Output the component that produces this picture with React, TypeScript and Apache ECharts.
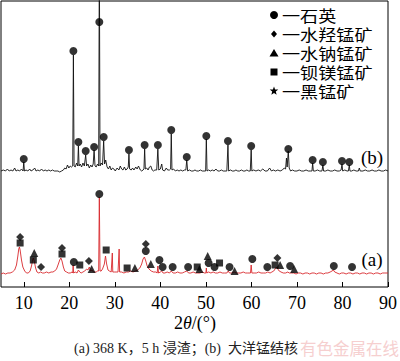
import React, { useEffect, useRef } from "react";
import * as echarts from "echarts";

// 2θ (°) vs. intensity (px above own baseline)
const bProfile: number[][] = [
  [5.0,1],[5.5,2],[6.0,1],[6.4,3],[6.8,1],[7.2,2],[7.6,1],[8.0,4],[8.3,1],[8.7,2],[9.1,1],[9.5,3],[9.85,1],[10.0,10],[10.15,1],
  [10.5,2],[10.9,1],[11.3,3],[11.6,1],[12.0,2],[12.4,4],[12.7,1],[13.1,2],[13.5,1],[13.9,3],[14.3,1],[14.7,2],[15.1,1],[15.5,2],
  [15.9,1],[16.3,2],[16.7,1],[17.1,1],[17.5,1],[17.9,0],[18.3,1],[18.7,2],[19.0,4],[19.3,3],[19.6,7],[19.9,4],[20.2,6],[20.5,5],
  [20.75,6],[20.9,117],[21.05,6],[21.3,5],[21.6,9],[21.85,6],[22.0,26],[22.15,6],[22.4,8],[22.7,5],[23.0,9],[23.3,6],[23.6,17],
  [23.8,6],[24.1,8],[24.4,4],[24.7,7],[25.0,5],[25.25,8],[25.45,22],[25.65,6],[25.9,5],[26.2,8],[26.45,6],[26.6,220],[26.75,6],
  [27.0,9],[27.3,7],[27.55,31],[27.75,8],[28.0,12],[28.3,5],[28.6,3],[28.9,6],[29.2,2],[29.5,4],[29.8,3],[30.1,1],[30.5,4],
  [30.9,2],[31.2,6],[31.5,3],[31.8,2],[32.1,5],[32.4,2],[32.7,3],[32.95,5],[33.1,18],[33.25,3],[33.6,2],[33.9,4],[34.2,2],
  [34.6,5],[34.9,3],[35.2,6],[35.6,2],[35.9,1],[36.2,2],[36.4,3],[36.55,23],[36.7,3],[37.0,4],[37.3,2],[37.6,5],[37.9,6],
  [38.2,2],[38.5,1],[38.8,2],[39.2,2],[39.45,23],[39.65,2],[40.0,3],[40.3,8],[40.5,2],[40.9,1],[41.3,4],[41.6,2],[42.0,2],
  [42.25,3],[42.4,38],[42.55,2],[42.9,3],[43.3,1],[43.7,2],[44.1,1],[44.5,2],[44.9,1],[45.3,2],[45.6,2],[45.8,12],[46.0,1],
  [46.4,2],[46.8,1],[47.2,1],[47.6,2],[48.0,1],[48.4,1],[48.8,2],[49.2,1],[49.6,1],[49.95,1],[50.1,33],[50.25,1],[50.6,2],
  [51.0,1],[51.4,2],[51.8,1],[52.2,3],[52.6,1],[53.0,1],[53.4,2],[53.8,1],[54.2,1],[54.6,1],[54.85,27],[55.0,1],[55.4,2],
  [55.8,1],[56.2,1],[56.6,2],[57.0,1],[57.4,1],[57.8,2],[58.2,1],[58.6,1],[59.0,2],[59.4,1],[59.75,1],[59.95,22],[60.1,1],
  [60.5,2],[61.0,1],[61.5,2],[62.0,1],[62.5,3],[63.0,1],[63.5,1],[64.0,4],[64.4,1],[64.8,2],[65.3,1],[65.8,2],[66.3,1],
  [66.8,2],[67.2,4],[67.5,3],[67.7,14],[67.85,5],[68.1,21],[68.3,4],[68.6,1],[69.0,2],[69.5,1],[70.0,1],[70.5,2],[71.0,1],
  [71.5,1],[72.0,2],[72.5,1],[73.0,1],[73.3,1],[73.45,9],[73.6,1],[74.0,1],[74.5,2],[75.0,1],[75.5,1],[75.7,7],[75.85,1],
  [76.3,1],[76.8,2],[77.3,1],[77.8,1],[78.3,2],[78.8,1],[79.3,1],[79.7,2],[79.9,8],[80.05,1],[80.5,2],[81.0,1],[81.3,1],
  [81.5,7],[81.65,1],[82.0,1],[82.5,2],[83.0,1],[83.5,1],[83.7,4],[83.9,1],[84.5,1],[85.0,2],[85.5,1],[86.0,1],[86.5,2],
  [87.0,1],[87.5,1],[88.0,2],[88.5,1],[89.0,1],[89.5,2],[90.0,1],
];

const aProfile: number[][] = [
  [5.0,0],[5.5,1],[6.0,0],[6.5,1],[7.0,1],[7.5,2],[8.0,4],[8.4,9],[8.7,18],[8.9,25],[9.05,27],[9.2,24],[9.5,14],[9.8,7],
  [10.2,3],[10.6,1],[11.0,1],[11.4,3],[11.7,8],[11.95,14],[12.1,16],[12.3,13],[12.6,6],[12.9,2],[13.3,1],[13.7,2],[14.1,1],
  [14.5,1],[15.0,2],[15.5,1],[16.0,2],[16.4,2],[16.8,3],[17.2,5],[17.6,10],[17.9,14],[18.15,16],[18.4,13],[18.7,7],[19.0,3],
  [19.4,2],[19.8,1],[20.2,1],[20.6,2],[20.75,1],[20.85,9],[20.95,1],[21.3,2],[21.7,1],[22.0,4],[22.3,2],[22.6,1],[23.0,2],
  [23.4,3],[23.8,5],[24.1,4],[24.4,7],[24.7,3],[25.0,4],[25.3,2],[25.6,2],[25.9,2],[26.2,3],[26.45,3],[26.6,77],[26.75,3],
  [27.0,3],[27.3,5],[27.7,10],[27.95,18],[28.2,10],[28.5,4],[28.8,3],[29.2,2],[29.35,2],[29.45,21],[29.55,2],[29.9,2],
  [30.3,2],[30.7,2],[30.85,2],[30.95,25],[31.05,2],[31.5,2],[32.0,1],[32.5,2],[33.0,2],[33.5,3],[34.0,2],[34.5,3],[35.0,4],
  [35.5,6],[35.9,10],[36.2,15],[36.5,17],[36.8,13],[37.1,8],[37.5,5],[38.0,3],[38.5,2],[39.0,2],[39.3,1],[39.45,8],[39.6,1],
  [40.0,2],[40.3,3],[40.6,1],[41.0,1],[41.5,2],[42.0,1],[42.4,3],[42.8,1],[43.3,1],[43.8,2],[44.3,1],[44.8,1],[45.3,2],
  [45.8,3],[46.2,1],[46.7,1],[47.2,2],[47.7,1],[48.2,1],[48.7,1],[49.2,2],[49.7,1],[50.0,1],[50.1,6],[50.2,1],[50.6,2],
  [51.1,1],[51.6,2],[52.1,1],[52.6,1],[53.1,2],[53.6,1],[54.1,1],[54.6,1],[54.9,3],[55.2,1],[55.7,1],[56.2,2],[56.7,1],
  [57.2,1],[57.7,1],[58.2,2],[58.7,1],[59.2,1],[59.8,1],[59.95,9],[60.1,1],[60.6,1],[61.1,1],[61.6,2],[62.1,1],[62.6,1],
  [63.1,1],[63.6,2],[64.1,1],[64.5,2],[64.9,3],[65.2,5],[65.5,7],[65.8,5],[66.1,3],[66.5,2],[67.0,1],[67.5,1],[68.0,2],
  [68.3,1],[68.8,1],[69.3,1],[69.8,0],[70.3,1],[70.8,1],[71.3,0],[71.8,1],[72.3,1],[72.8,0],[73.3,1],[73.8,1],[74.3,0],
  [74.8,1],[75.3,1],[75.8,0],[76.3,1],[76.8,1],[77.3,2],[77.7,3],[78.0,4],[78.3,2],[78.8,1],[79.3,0],[79.8,1],[80.3,1],
  [80.8,0],[81.3,1],[81.8,1],[82.3,0],[82.8,1],[83.3,1],[83.8,0],[84.3,1],[84.8,1],[85.3,0],[85.8,1],[86.3,1],[86.8,0],
  [87.3,1],[87.8,1],[88.3,0],[88.8,1],[89.3,1],[90.0,1],
];

// phase markers [2θ, height above own baseline]
const bQuartzMarks: number[][] = [
  [10.0,13],[20.9,121],[22.0,30],[23.6,21],[25.45,25],[26.6,150],[27.55,35],[33.1,22],[36.55,27],[39.45,27],
  [42.4,42],[45.8,15],[50.1,36],[54.85,31],[59.95,26],[68.1,23],[73.45,12],[75.7,10],[79.9,11],[81.5,10],
];
const aQuartzMarks: number[][] = [
  [21.0,12],[26.6,80],[36.8,23],[39.8,14],[40.5,7],[42.7,7],[46.1,7],[50.6,11],[51.9,7],[55.2,7],[60.2,15],
  [63.5,7],[68.5,8],[78.1,8],[82.1,7],
];
const aDiamondMarks: number[][] = [[9.2,37],[13.8,7],[18.4,26],[24.3,13],[36.8,30],[65.7,16]];
const aSquareMarks: number[][] = [[9.2,31],[12.1,14],[18.4,20],[22.3,9],[28.1,24],[32.7,6],[48.1,7],[53.0,11],[65.2,9]];
const aTriangleMarks: number[][] = [[12.3,21],[24.9,5],[34.4,6],[37.9,10],[48.6,5],[50.4,18],[56.3,3],[66.3,9],[69.4,5]];

const xTicks = [10, 20, 30, 40, 50, 60, 70, 80, 90];
const legendNames = ["一石英", "一水羟锰矿", "一水钠锰矿", "一钡镁锰矿", "一黑锰矿"];

const B_OFFSET = 115;
const A_OFFSET = 13;
const RED = "#d8282c";
const SERIF = "'Liberation Serif', 'Times New Roman', serif";
const CJK = "'Liberation Serif', 'Noto Sans CJK SC', serif";

export default function App() {
  const ref = useRef<HTMLDivElement>(null);
  useEffect(() => {
    if (!ref.current) return;
    const chart = echarts.init(ref.current, undefined, { renderer: "svg" });
    const shift = (arr: number[][], off: number) => arr.map(([x, y]) => [x, y + off]);
    const marker = (name: string, data: number[][], symbol: string, size: number) => ({
      type: "scatter", name, data, symbol, symbolSize: size,
      itemStyle: { color: "#000" }, z: 5, silent: true,
    });
    const lx = 274, tx = 282, rows = [15, 34, 53, 72, 91];
    const starPts: number[][] = [];
    for (let i = 0; i < 10; i++) {
      const r = i % 2 === 0 ? 4.5 : 1.9;
      const ang = -Math.PI / 2 + (i * Math.PI) / 5;
      starPts.push([lx + r * Math.cos(ang), rows[4] + r * Math.sin(ang)]);
    }
    chart.setOption({
      animation: false,
      grid: { left: 1, right: 10, top: 1, bottom: 74, show: true, borderColor: "#000", borderWidth: 1 },
      xAxis: {
        type: "value", min: 5, max: 90,
        axisLine: { show: false },
        splitLine: { show: false },
        axisTick: { inside: true, length: 5, customValues: xTicks, lineStyle: { color: "#000" } },
        axisLabel: { customValues: xTicks, fontSize: 18, fontFamily: SERIF, color: "#000", margin: 7 },
      },
      yAxis: {
        type: "value", min: 0, max: 286,
        axisLine: { show: false }, axisTick: { show: false }, axisLabel: { show: false }, splitLine: { show: false },
      },
      series: [
        { type: "line", data: shift(bProfile, B_OFFSET), symbol: "none", lineStyle: { color: "#111", width: 0.9 }, clip: true, silent: true },
        { type: "line", data: shift(aProfile, A_OFFSET), symbol: "none", lineStyle: { color: RED, width: 0.9 }, clip: true, silent: true },
        marker("石英b", shift(bQuartzMarks, B_OFFSET), "circle", 8),
        marker("石英a", shift(aQuartzMarks, A_OFFSET), "circle", 8),
        marker("水羟锰矿", shift(aDiamondMarks, A_OFFSET), "diamond", 8),
        marker("钡镁锰矿", shift(aSquareMarks, A_OFFSET), "rect", 7),
        marker("水钠锰矿", shift(aTriangleMarks, A_OFFSET), "triangle", 8),
      ],
      graphic: [
        { type: "circle", shape: { cx: lx, cy: rows[0], r: 4 }, style: { fill: "#000" } },
        { type: "polygon", shape: { points: [[lx, rows[1] - 3.5], [lx + 3, rows[1]], [lx, rows[1] + 3.5], [lx - 3, rows[1]]] }, style: { fill: "#000" } },
        { type: "polygon", shape: { points: [[lx, rows[2] - 4], [lx + 4.5, rows[2] + 3.5], [lx - 4.5, rows[2] + 3.5]] }, style: { fill: "#000" } },
        { type: "rect", shape: { x: lx - 3.5, y: rows[3] - 3.5, width: 7, height: 7 }, style: { fill: "#000" } },
        { type: "polygon", shape: { points: starPts }, style: { fill: "#000" } },
        ...legendNames.map((t, i) => ({
          type: "text", x: tx, y: rows[i], scaleX: 1.17,
          style: { text: t, fontSize: 15.5, lineHeight: 16, fontFamily: "'Noto Sans CJK SC', sans-serif", fill: "#000", textVerticalAlign: "middle" },
        })),
        { type: "text", x: 372, y: 157, style: { text: "(b)", fontSize: 19, fontFamily: SERIF, fill: "#000", textAlign: "center", textVerticalAlign: "middle" } },
        { type: "text", x: 372, y: 259, style: { text: "(a)", fontSize: 19, fontFamily: SERIF, fill: "#000", textAlign: "center", textVerticalAlign: "middle" } },
        {
          type: "text", x: 195, y: 323,
          style: {
            text: "2{i|θ}/(°)", fontSize: 18, fontFamily: SERIF, fill: "#000", textAlign: "center", textVerticalAlign: "middle",
            rich: { i: { fontStyle: "italic", fontSize: 18, fontFamily: SERIF } },
          },
        },
        { type: "text", x: 399, y: 348, z: 0, style: { text: "有色金属在线", fontSize: 16.5, fontFamily: "'Noto Sans CJK SC', sans-serif", fill: "#f6cfcf", textAlign: "right", textVerticalAlign: "middle" } },
        { type: "text", x: 298, y: 348, z: 1, style: { text: "(a) 368 K，5 h 浸渣；(b)  大洋锰结核", fontSize: 14, fontFamily: CJK, fill: "#222", textAlign: "right", textVerticalAlign: "middle" } },
      ],
    });
    return () => chart.dispose();
  }, []);
  return <div ref={ref} style={{ position: "absolute", left: 0, top: 0, width: 400, height: 361, background: "#fff" }} />;
}
